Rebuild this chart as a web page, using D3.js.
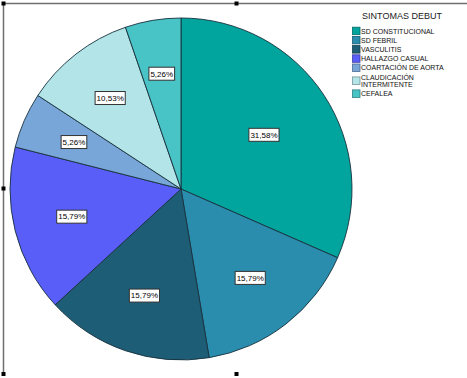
<!DOCTYPE html>
<html>
<head>
<meta charset="utf-8">
<script src="https://cdn.jsdelivr.net/npm/d3@7"></script>
<style>
  html, body { margin: 0; padding: 0; background: #fff; }
  svg { display: block; font-family: "Liberation Sans", Arial, sans-serif; }
</style>
</head>
<body>
<svg id="chart" width="467" height="378"></svg>
<script>
// ---- data ----
const categories = ["SD CONSTITUCIONAL", "SD FEBRIL", "VASCULITIS", "HALLAZGO CASUAL",
                    "COARTACIÓN DE AORTA", "CLAUDICACIÓN INTERMITENTE", "CEFALEA"];
const counts = [6, 3, 3, 3, 1, 2, 1];
const percentLabels = ["31,58%", "15,79%", "15,79%", "15,79%", "5,26%", "10,53%", "5,26%"];
const sliceColors = ["#02A59E", "#2A8DAE", "#1D5D75", "#5A5EF8", "#79A6D8", "#B3E5E8", "#48C3C6"];
const legendTitle = "SINTOMAS DEBUT";

// ---- layout ----
const W = 467, H = 378;
const cx = 181, cy = 189, R = 171;
const svg = d3.select("#chart");

// frame (partial selection border like the source)
const frame = svg.append("g");
frame.append("line").attr("x1", 3.5).attr("y1", 3.5).attr("x2", W).attr("y2", 3.5)
  .attr("stroke", "#6f6f6f").attr("stroke-width", 1.5);
frame.append("line").attr("x1", 3.5).attr("y1", 3.5).attr("x2", 3.5).attr("y2", 374)
  .attr("stroke", "#6f6f6f").attr("stroke-width", 1.5);
[[3.5, 3.5], [236.5, 3.5], [3.5, 188.5], [3.5, 374], [236.5, 374]].forEach(([x, y]) => {
  frame.append("rect").attr("x", x - 2).attr("y", y - 2).attr("width", 4).attr("height", 4)
    .attr("fill", "#000");
});

// ---- pie ----
const pie = d3.pie().sort(null).value(d => d)(counts);
const arc = d3.arc().innerRadius(0).outerRadius(R);
const g = svg.append("g").attr("transform", `translate(${cx},${cy})`);
g.selectAll("path.slice").data(pie).join("path")
  .attr("class", "slice")
  .attr("d", arc)
  .attr("fill", (d, i) => sliceColors[i])
  .attr("stroke", "#17313d")
  .attr("stroke-width", 0.9)
  .attr("stroke-linejoin", "round");

// labels near the area centroid of each sector
const labels = g.selectAll("g.lbl").data(pie).join("g").attr("class", "lbl")
  .attr("transform", d => {
    const a = (d.startAngle + d.endAngle) / 2;
    const half = (d.endAngle - d.startAngle) / 2;
    const dist = 2 * R * Math.sin(half) / (3 * half) * 1.03;
    return `translate(${dist * Math.sin(a)},${-dist * Math.cos(a)})`;
  });
labels.each(function(d, i) {
  const sel = d3.select(this);
  const t = sel.append("text")
    .attr("text-anchor", "middle")
    .attr("dy", "0.35em")
    .attr("font-size", 8)
    .attr("fill", "#000")
    .text(percentLabels[i]);
  const bb = t.node().getBBox();
  sel.insert("rect", "text")
    .attr("x", bb.x - 1.5).attr("y", -6.5)
    .attr("width", bb.width + 3).attr("height", 13)
    .attr("fill", "#fff").attr("stroke", "#333").attr("stroke-width", 1);
});

// ---- legend ----
const legend = svg.append("g");
legend.append("text")
  .attr("x", 402).attr("y", 19)
  .attr("text-anchor", "middle")
  .attr("font-size", 9)
  .attr("fill", "#222")
  .text(legendTitle);

const maxW = 100;
let y = 31;
categories.forEach((name, i) => {
  // wrap long names
  const probe = legend.append("text").attr("font-size", 7).text(name);
  let lines = [name];
  if (probe.node().getComputedTextLength() > maxW) {
    const words = name.split(" ");
    lines = [];
    let cur = "";
    words.forEach(w => {
      const test = cur ? cur + " " + w : w;
      probe.text(test);
      if (probe.node().getComputedTextLength() > maxW && cur) { lines.push(cur); cur = w; }
      else cur = test;
    });
    if (cur) lines.push(cur);
  }
  probe.remove();
  const lh = 7.5;
  const mid = y + (lines.length - 1) * lh / 2;
  legend.append("rect")
    .attr("x", 352.5).attr("y", mid - 3.8)
    .attr("width", 7.5).attr("height", 7.5)
    .attr("fill", sliceColors[i])
    .attr("stroke", d3.color(sliceColors[i]).darker(1.2))
    .attr("stroke-width", 0.8);
  lines.forEach((ln, k) => {
    legend.append("text")
      .attr("x", 361).attr("y", y + k * lh + 2.6)
      .attr("font-size", 7)
      .attr("fill", "#111")
      .text(ln);
  });
  y += 9.2 + (lines.length - 1) * lh;
});
</script>
</body>
</html>
